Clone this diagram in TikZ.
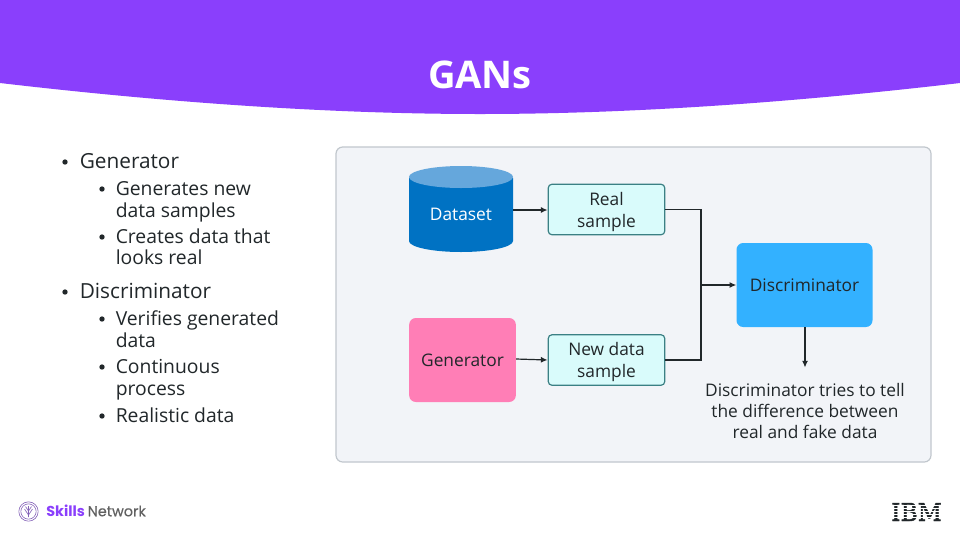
\documentclass[tikz,border=0pt]{standalone}
\usepackage{fontspec}
\setmainfont{Open Sans}
\newfontfamily\pop{Poppins}
\newfontfamily\popm[FakeBold=0.4]{Poppins}
\newfontfamily\ibmf[FakeBold=2,FakeStretch=0.95]{DejaVu Serif}
\usetikzlibrary{arrows.meta,calc}
\definecolor{purp}{HTML}{8A3FFC}
\definecolor{panel}{HTML}{F2F4F8}
\definecolor{panelb}{HTML}{C1C7CD}
\definecolor{ink}{HTML}{21272A}
\definecolor{teal1}{HTML}{D9FBFB}
\definecolor{teal2}{HTML}{3B8084}
\definecolor{blue1}{HTML}{0072C3}
\definecolor{blue2}{HTML}{65A7DC}
\definecolor{pink1}{HTML}{FF7EB6}
\definecolor{blue3}{HTML}{33B1FF}
\newcommand{\lift}{\rule{0pt}{13.2pt}}
\tikzset{
  x=0.75pt,y=-0.75pt,
  samplebox/.style={draw=teal2,fill=teal1,line width=0.9pt,rounded corners=3pt,minimum width=87.5pt,minimum height=38pt,align=center,text=ink,font=\fontsize{13}{16.4}\selectfont,inner sep=0pt},
  bigbox/.style={rounded corners=5pt,align=center,text=ink,font=\fontsize{13}{16}\selectfont,inner sep=0pt},
  conn/.style={draw=ink,line width=0.9pt,-{Latex[length=5pt,width=4.5pt]}},
  wire/.style={draw=ink,line width=0.9pt},
  cap1/.style={font=\fontsize{15.6}{16}\selectfont,text=ink,anchor=base west,inner sep=0pt},
  cap2/.style={font=\fontsize{14.5}{16}\selectfont,text=ink,anchor=base west,inner sep=0pt},
  bul/.style={fill=ink,circle,inner sep=0pt,minimum size=4pt},
  ibmstripe/.style={draw=white,line width=0.6pt},
}
\begin{document}
\begin{tikzpicture}
\useasboundingbox (0,0) rectangle (960,540);
\fill[white] (0,0) rectangle (960,540);
\fill[purp] (0,0) -- (960,0) -- (960,83) .. controls (780,104) and (620,114) .. (480,114) .. controls (340,114) and (180,104) .. (0,83) -- cycle;
\node[font=\bfseries\fontsize{28.6}{34}\selectfont,text=white,inner sep=0pt] (title) at (480,75) {GANs};

% bullet text
\node[bul] (b1) at (65,162) {}; \node[cap1] (t1) at (79.5,168) {Generator};
\node[bul] (b2) at (102,189) {}; \node[cap2] (t2) at (115.5,195) {Generates new};
\node[cap2] (t2b) at (115.5,217) {data samples};
\node[bul] (b3) at (102,237) {}; \node[cap2] (t3) at (115.5,243) {Creates data that};
\node[cap2] (t3b) at (115.5,264) {looks real};
\node[bul] (b4) at (65,292) {}; \node[cap1] (t4) at (79.5,298) {Discriminator};
\node[bul] (b5) at (102,319) {}; \node[cap2] (t5) at (115.5,325) {Verifies generated};
\node[cap2] (t5b) at (115.5,347) {data};
\node[bul] (b6) at (102,367) {}; \node[cap2] (t6) at (115.5,373) {Continuous};
\node[cap2] (t6b) at (115.5,395) {process};
\node[bul] (b7) at (102,416) {}; \node[cap2] (t7) at (115.5,422) {Realistic data};

% panel
\draw[panelb,fill=panel,line width=0.9pt,rounded corners=5pt] (336,147) rectangle (931,462);

% cylinder
\fill[blue1] (409,178) -- (409,241) arc[start angle=180,end angle=360,x radius=52,y radius=-11] -- (513,178) -- cycle;
\fill[blue2] (461,177) ellipse[x radius=52,y radius=11];
\node[font=\fontsize{13}{16}\selectfont,text=white,inner sep=0pt,minimum width=78pt,minimum height=58pt] (dataset) at (461,214.5) {Dataset};
\coordinate (dsE) at (513,210);

\node[samplebox] (real) at (606.5,209.5) {\lift Real\\sample};
\node[samplebox] (new) at (606.5,360) {\lift New data\\sample};
\node[bigbox,fill=pink1,minimum width=80pt,minimum height=63pt] (gen) at (462.5,360) {Generator};
\node[bigbox,fill=blue3,minimum width=102pt,minimum height=63pt,anchor=center] (disc) at (804.5,285) {Discriminator};
\node[align=center,text=ink,font=\fontsize{13}{16}\selectfont,inner sep=0pt] (cap) at (805,411) {Discriminator tries to tell\\[0pt]the difference between\\[0pt]real and fake data};

\coordinate (j) at (701,285);
\coordinate (capTop) at (805,367.5);
\draw[conn] (dsE) -- (real.west |- dsE);
\draw[conn] (gen.east |- new.west) ++(0,-1) -- (new.west);
\draw[wire] (real.east) -| (j);
\draw[wire] (new.east) -| (j);
\draw[conn] (j) -- (disc.west);
\draw[conn] (disc.south -| capTop) -- (capTop);

% footer: Skills Network
\begin{scope}[draw=purp!45!gray,line width=0.45pt]
\node[circle,draw,inner sep=0pt,minimum size=14.5pt] (logo) at (28.5,511.5) {};
\node[circle,draw,inner sep=0pt,minimum size=11.5pt] (logo2) at (28.5,511.5) {};
\draw (28.5,517) -- (28.5,506) (28.5,515) -- (24.5,509) (28.5,515) -- (32.5,509) (28.5,511) -- (25.5,506.5) (28.5,511) -- (31.5,506.5);
\end{scope}
\node[anchor=west,inner sep=0pt,font=\pop\bfseries\fontsize{10.8}{12}\selectfont,text=purp] (sk) at (46,511) {Skills};
\node[anchor=west,inner sep=0pt,font=\popm\fontsize{10.8}{12}\selectfont,text=black!62] (nw) at (sk.east) {\,Network};

% IBM logo
\node[inner sep=0pt,font=\ibmf\fontsize{18.5}{18}\selectfont,text=ink] (ibm) at (916.5,512) {IBM};
\foreach \yy in {505.5,508.5,511.5,514.5,517.5}{
  \draw[ibmstripe] (890,\yy) -- (944,\yy);
}
\end{tikzpicture}
\end{document}
